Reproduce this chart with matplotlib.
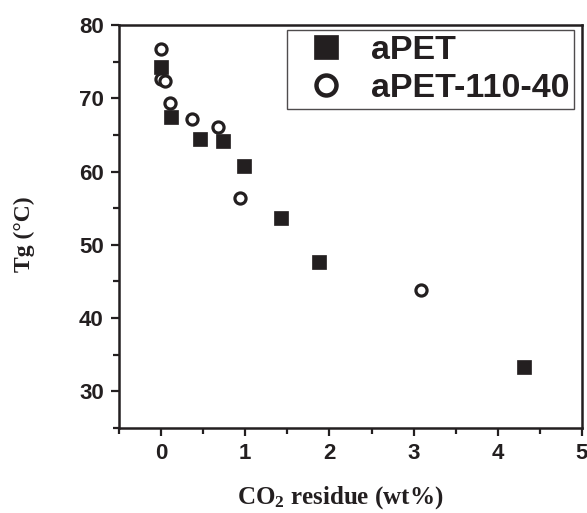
import numpy as np
import matplotlib
matplotlib.use("Agg")
from matplotlib import pyplot as plt
from matplotlib.ticker import MultipleLocator

plt.rcParams['mathtext.fontset'] = 'custom'
plt.rcParams['mathtext.rm'] = 'Liberation Serif:bold'
plt.rcParams['mathtext.it'] = 'Liberation Serif:bold'
plt.rcParams['mathtext.bf'] = 'Liberation Serif:bold'

# CO2 residue (wt%) and glass transition temperature (C)
apet_co2 = [0.0, 0.12, 0.46, 0.74, 0.98, 1.43, 1.87, 4.31]
apet_tg = [74.3, 67.5, 64.4, 64.2, 60.8, 53.6, 47.6, 33.3]

apet11040_co2 = [0.0, 0.0, 0.05, 0.11, 0.37, 0.68, 0.94, 3.09]
apet11040_tg = [76.7, 72.6, 72.4, 69.4, 67.2, 66.1, 56.4, 43.9]

ink = "#231f20"

fig = plt.figure(figsize=(5.87, 5.13), dpi=100)
ax = fig.add_axes([0.2027, 0.1657, 0.7888, 0.7856])

ax.plot(apet_co2, apet_tg, ls="none", marker="s", ms=9.5,
        mfc=ink, mec=ink, mew=0.5, label="aPET")
ax.plot(apet11040_co2, apet11040_tg, ls="none", marker="o", ms=8,
        mfc="white", mec=ink, mew=2.3, label="aPET-110-40")

ax.set_xlim(-0.5, 5)
ax.set_ylim(25, 80)
ax.xaxis.set_major_locator(MultipleLocator(1))
ax.xaxis.set_minor_locator(MultipleLocator(0.5))
ax.yaxis.set_major_locator(MultipleLocator(10))
ax.yaxis.set_minor_locator(MultipleLocator(5))
ax.set_yticks([30, 40, 50, 60, 70, 80])

for sp in ax.spines.values():
    sp.set_linewidth(1.8)
    sp.set_color(ink)
ax.tick_params(which="both", direction="out", top=False, right=False,
               width=1.6, color=ink)
ax.tick_params(which="major", length=6, pad=5)
ax.tick_params(which="minor", length=4)
for lab in ax.get_xticklabels() + ax.get_yticklabels():
    lab.set_fontfamily("Liberation Sans")
    lab.set_fontweight("bold")
    lab.set_fontsize(16)
    lab.set_color(ink)

ax.set_xlabel(r"CO$_2$ residue (wt%)", family="Liberation Serif",
              fontweight="bold", fontsize=18, color=ink)
ax.xaxis.set_label_coords(0.477, -0.14)
ax.set_ylabel("Tg (°C)", family="Liberation Serif",
              fontweight="bold", fontsize=17, color=ink)
ax.yaxis.set_label_coords(-0.181, 0.481)

leg = ax.legend(loc="upper right", bbox_to_anchor=(0.983, 0.988),
                borderaxespad=0, markerscale=1.8, handletextpad=0.3,
                prop={"family": "Liberation Sans", "weight": "bold", "size": 24.5},
                frameon=True, fancybox=False, edgecolor=ink,
                borderpad=0.15, labelspacing=0.2, handlelength=2.0)
leg.get_frame().set_linewidth(1.0)
leg.legend_handles[1].set_markeredgewidth(3.2)
for t in leg.get_texts():
    t.set_color(ink)

fig.savefig("out.png", dpi=100)
